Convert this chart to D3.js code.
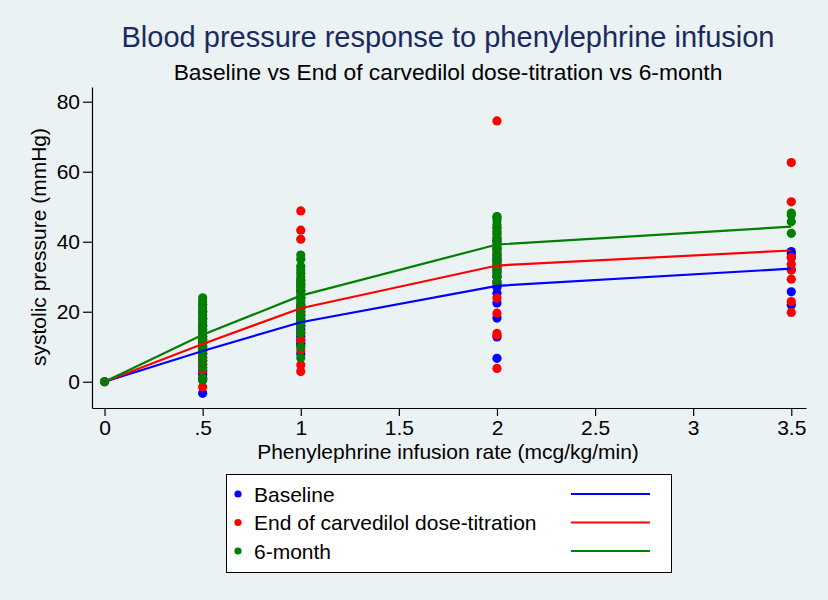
<!DOCTYPE html>
<html>
<head>
<meta charset="utf-8">
<script src="https://cdn.jsdelivr.net/npm/d3@7"></script>
<style>
  html, body { margin: 0; padding: 0; background: #eaf2f3; }
  svg { display: block; font-family: "Liberation Sans", Arial, sans-serif; }
</style>
</head>
<body>
<svg id="chart" width="828" height="600"></svg>
<script>
// ---- data ----
const doses = [0, 0.5, 1, 2, 3.5];
const xTickValues = [0, 0.5, 1, 1.5, 2, 2.5, 3, 3.5];
const xTickLabels = ["0", ".5", "1", "1.5", "2", "2.5", "3", "3.5"];
const yTickValues = [0, 20, 40, 60, 80];

const seriesNames = ["Baseline", "End of carvedilol dose-titration", "6-month"];
const seriesColors = ["#0000ff", "#ff0000", "#008000"];

// individual observations per dose (same order as doses)
const baselinePts = [
  [0],
  [-3.3, 0.5, 2, 3, 4, 5, 6, 7, 8, 9, 10, 11, 12, 13, 14, 16, 18, 20],
  [8, 10.5, 11, 12, 13, 14, 15, 16, 17, 18, 19, 20, 21, 22, 24, 26, 28],
  [6.7, 12.8, 18.2, 22.5, 25.3, 27, 28, 30, 31, 32, 33, 34, 35, 36, 38, 40],
  [21.9, 25.7, 32, 35.5, 36.5, 37.2]
];
const carvedilolPts = [
  [0],
  [-1.5, 1, 3.3, 5, 6, 7, 8, 9, 10, 11, 12, 13, 14, 15, 16, 18, 20, 22],
  [2.9, 4.8, 9.1, 12, 14, 16, 18, 19, 20, 21.4, 22, 24, 26, 27.6, 29, 40.7, 43.3, 48.8],
  [3.8, 13.3, 13.8, 19.6, 23.9, 28.6, 30, 32, 33, 35, 36.8, 38, 40.5, 41, 42.4, 44, 74.5],
  [19.8, 22.9, 29.3, 31.9, 33.6, 35.5, 51.4, 62.6]
];
const sixMonthPts = [
  [0],
  [0.5, 1, 4, 6, 8, 9, 10, 11, 12, 13, 14, 15, 16, 17, 18, 19, 20, 21, 22, 23, 24],
  [6.8, 10, 14, 16, 18, 19, 20, 21, 22, 23, 24, 25, 26, 27, 28, 29, 30, 31, 32, 33, 35, 36.2],
  [28.6, 30, 31.5, 33, 34, 35, 36, 37, 38, 39, 40, 41, 42, 43, 44, 45, 46.2, 47, 47.2],
  [42.4, 45.7, 47.6, 48.2]
];

// mean response per dose (connected lines)
const baselineMeans = [0, 8.8, 17.0, 27.4, 32.3];
const carvedilolMeans = [0, 10.8, 21.0, 33.2, 37.5];
const sixMonthMeans = [0, 13.4, 24.6, 39.2, 44.3];

const allPts = [baselinePts, carvedilolPts, sixMonthPts];
const allMeans = [baselineMeans, carvedilolMeans, sixMonthMeans];

// ---- chart ----
const svg = d3.select("#chart");
svg.append("rect").attr("width", 828).attr("height", 600).attr("fill", "#eaf2f3");

const x = d3.scaleLinear().domain([-0.064, 3.575]).range([92, 806]);
const y = d3.scaleLinear().domain([-7.5, 84.2]).range([408, 87]);

// axes
const xAxis = d3.axisBottom(x).tickValues(xTickValues)
  .tickFormat((d, i) => xTickLabels[i]).tickSizeInner(8).tickSizeOuter(0).tickPadding(4);
const gx = svg.append("g").attr("transform", "translate(0,408)").call(xAxis);
gx.selectAll("text").attr("font-size", 21).attr("fill", "#000").attr("font-family", "Liberation Sans, Arial, sans-serif");
gx.selectAll("line, path").attr("stroke", "#000").attr("stroke-width", 1.2);

const yAxis = d3.axisLeft(y).tickValues(yTickValues)
  .tickSizeInner(9).tickSizeOuter(0).tickPadding(3);
const gy = svg.append("g").attr("transform", "translate(92,0)").call(yAxis);
gy.selectAll("text").attr("font-size", 21).attr("fill", "#000").attr("font-family", "Liberation Sans, Arial, sans-serif");
gy.selectAll("line, path").attr("stroke", "#000").attr("stroke-width", 1.2);

// points
allPts.forEach((series, si) => {
  const flat = [];
  series.forEach((vals, di) => vals.forEach(v => flat.push({ x: doses[di], y: v })));
  svg.append("g").selectAll("circle").data(flat).join("circle")
    .attr("cx", d => x(d.x)).attr("cy", d => y(d.y)).attr("r", 4.6)
    .attr("fill", seriesColors[si]);
});

// mean lines
const line = d3.line().x((d, i) => x(doses[i])).y(d => y(d));
allMeans.forEach((m, si) => {
  svg.append("path").datum(m).attr("d", line)
    .attr("fill", "none").attr("stroke", seriesColors[si]).attr("stroke-width", 2.2);
});

// titles
svg.append("text").attr("x", 448).attr("y", 47).attr("text-anchor", "middle")
  .attr("font-size", 29).attr("fill", "#1a2a5e").text("Blood pressure response to phenylephrine infusion");
svg.append("text").attr("x", 448).attr("y", 80).attr("text-anchor", "middle")
  .attr("font-size", 22.8).attr("fill", "#000").text("Baseline vs End of carvedilol dose-titration vs 6-month");

svg.append("text").attr("x", 448).attr("y", 459).attr("text-anchor", "middle")
  .attr("font-size", 21).attr("fill", "#000").text("Phenylephrine infusion rate (mcg/kg/min)");
svg.append("text").attr("transform", "translate(46,247) rotate(-90)").attr("text-anchor", "middle")
  .attr("font-size", 21).attr("fill", "#000").text("systolic pressure (mmHg)");

// legend
const lg = svg.append("g");
lg.append("rect").attr("x", 226.5).attr("y", 474.5).attr("width", 445).attr("height", 98)
  .attr("fill", "#fff").attr("stroke", "#000").attr("stroke-width", 1);
seriesNames.forEach((name, i) => {
  const cy = 494 + i * 28.5;
  lg.append("circle").attr("cx", 238).attr("cy", cy).attr("r", 3.6).attr("fill", seriesColors[i]);
  lg.append("text").attr("x", 254).attr("y", cy + 7.5).attr("font-size", 21).attr("fill", "#000").text(name);
  lg.append("line").attr("x1", 571).attr("x2", 650).attr("y1", cy).attr("y2", cy)
    .attr("stroke", seriesColors[i]).attr("stroke-width", 2);
});
</script>
</body>
</html>
